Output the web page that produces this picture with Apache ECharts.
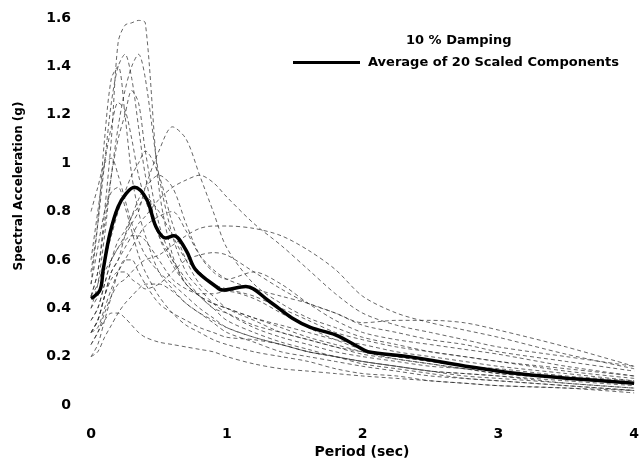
<!DOCTYPE html>
<html>
<head>
<meta charset="utf-8">
<script src="https://cdn.jsdelivr.net/npm/echarts@6/dist/echarts.min.js"></script>
<style>
  html, body { margin: 0; padding: 0; background: #fff; }
  #chart { width: 642px; height: 458px; }
</style>
</head>
<body>
<div id="chart"></div>
<script>
// Periods (sec) at which each scaled component spectrum is sampled
const periods = [0, 0.05, 0.1, 0.15, 0.2, 0.25, 0.3, 0.35, 0.4, 0.5, 0.6, 0.7, 0.8, 0.9, 1.0, 1.2, 1.4, 1.6, 1.8, 2.0, 2.25, 2.5, 2.75, 3.0, 3.5, 4.0];

// Spectral acceleration (g) of the 20 scaled components, 10% damping
const comp01 = [0.45,0.55,0.8,1.1,1.5,1.57,1.58,1.59,1.58,0.9,0.62,0.5,0.45,0.4,0.38,0.33,0.3,0.27,0.24,0.22,0.2,0.18,0.16,0.15,0.12,0.1];
const comp02 = [0.4,0.5,0.7,0.95,1.15,1.3,1.4,1.45,1.35,0.95,0.7,0.55,0.48,0.42,0.38,0.32,0.28,0.25,0.22,0.2,0.18,0.16,0.15,0.13,0.11,0.09];
const comp03 = [0.5,0.75,1.1,1.35,1.4,1.2,0.95,0.8,0.7,0.55,0.48,0.42,0.38,0.35,0.32,0.28,0.25,0.22,0.2,0.18,0.16,0.14,0.12,0.11,0.09,0.07];
const comp04 = [0.35,0.4,0.5,0.6,0.65,0.7,0.75,0.8,0.9,1.05,1.15,1.1,0.95,0.8,0.65,0.5,0.42,0.36,0.32,0.28,0.25,0.22,0.2,0.18,0.15,0.12];
const comp05 = [0.3,0.35,0.45,0.55,0.6,0.65,0.7,0.75,0.78,0.85,0.9,0.93,0.95,0.92,0.86,0.75,0.66,0.56,0.46,0.38,0.33,0.3,0.27,0.24,0.2,0.16];
const comp06 = [0.25,0.3,0.38,0.45,0.5,0.52,0.55,0.58,0.6,0.62,0.66,0.7,0.73,0.74,0.74,0.73,0.7,0.64,0.56,0.45,0.38,0.34,0.31,0.28,0.21,0.15];
const comp07 = [0.6,0.8,1.0,1.15,1.25,1.22,1.1,0.95,0.85,0.7,0.6,0.52,0.45,0.4,0.35,0.3,0.26,0.23,0.2,0.18,0.16,0.14,0.13,0.12,0.1,0.08];
const comp08 = [0.2,0.25,0.35,0.45,0.55,0.6,0.6,0.55,0.5,0.42,0.38,0.35,0.32,0.3,0.28,0.27,0.25,0.22,0.2,0.18,0.16,0.14,0.13,0.12,0.09,0.07];
const comp09 = [0.8,0.9,1.0,1.02,0.95,0.85,0.75,0.68,0.62,0.55,0.5,0.45,0.4,0.36,0.32,0.28,0.25,0.22,0.2,0.17,0.15,0.13,0.11,0.1,0.08,0.06];
const comp10 = [0.35,0.4,0.5,0.6,0.68,0.72,0.78,0.82,0.86,0.8,0.7,0.6,0.55,0.5,0.48,0.45,0.4,0.35,0.3,0.27,0.24,0.22,0.2,0.18,0.14,0.11];
const comp11 = [0.25,0.3,0.35,0.38,0.38,0.36,0.33,0.3,0.28,0.26,0.25,0.24,0.23,0.22,0.2,0.17,0.15,0.14,0.13,0.12,0.11,0.1,0.09,0.08,0.07,0.05];
const comp12 = [0.3,0.35,0.45,0.52,0.55,0.55,0.52,0.5,0.48,0.5,0.55,0.6,0.62,0.63,0.62,0.55,0.48,0.42,0.38,0.33,0.3,0.27,0.25,0.22,0.18,0.14];
const comp13 = [0.45,0.55,0.75,0.95,1.1,1.2,1.3,1.25,1.05,0.75,0.6,0.5,0.45,0.42,0.4,0.36,0.32,0.28,0.25,0.22,0.19,0.17,0.15,0.14,0.11,0.09];
const comp14 = [0.4,0.45,0.55,0.6,0.65,0.68,0.7,0.7,0.68,0.6,0.52,0.48,0.46,0.46,0.47,0.44,0.38,0.32,0.27,0.23,0.2,0.18,0.16,0.14,0.11,0.09];
const comp15 = [0.5,0.65,0.8,0.88,0.9,0.82,0.72,0.62,0.55,0.45,0.38,0.33,0.3,0.27,0.25,0.22,0.2,0.18,0.15,0.13,0.12,0.1,0.09,0.08,0.07,0.06];
const comp16 = [0.3,0.35,0.45,0.55,0.6,0.7,0.78,0.85,0.9,0.95,0.9,0.75,0.62,0.55,0.52,0.55,0.5,0.42,0.35,0.3,0.27,0.25,0.23,0.21,0.16,0.12];
const comp17 = [0.45,0.5,0.6,0.7,0.8,0.88,0.95,1.0,1.05,0.95,0.75,0.6,0.5,0.45,0.4,0.35,0.3,0.27,0.24,0.21,0.19,0.17,0.15,0.13,0.11,0.09];
const comp18 = [0.2,0.22,0.28,0.33,0.38,0.42,0.45,0.48,0.5,0.5,0.47,0.42,0.38,0.34,0.3,0.26,0.22,0.2,0.18,0.16,0.14,0.12,0.11,0.1,0.08,0.06];
const comp19 = [0.55,0.75,1.0,1.25,1.4,1.45,1.35,1.15,0.95,0.7,0.58,0.5,0.45,0.42,0.4,0.36,0.33,0.3,0.27,0.25,0.22,0.2,0.18,0.16,0.13,0.1];
const comp20 = [0.3,0.32,0.4,0.48,0.55,0.6,0.65,0.7,0.74,0.78,0.8,0.72,0.62,0.56,0.52,0.48,0.45,0.42,0.38,0.34,0.35,0.35,0.34,0.31,0.24,0.16];

// Average of the 20 scaled components
const avgPeriods = [0, 0.066, 0.09, 0.14, 0.2, 0.26, 0.32, 0.41, 0.48, 0.55, 0.61, 0.7, 0.77, 0.92, 0.97, 1.14, 1.31, 1.48, 1.62, 1.8, 1.97, 2.04, 2.34, 2.8, 3.14, 3.53, 4.0];
const avgValues  = [0.44, 0.475, 0.56, 0.71, 0.82, 0.875, 0.9, 0.85, 0.735, 0.69, 0.70, 0.64, 0.56, 0.49, 0.475, 0.49, 0.43, 0.36, 0.32, 0.29, 0.24, 0.22, 0.20, 0.157, 0.13, 0.11, 0.09];

const xTicks = [0, 1, 2, 3, 4];
const yTicks = [0, 0.2, 0.4, 0.6, 0.8, 1, 1.2, 1.4, 1.6];

const components = [comp01, comp02, comp03, comp04, comp05, comp06, comp07, comp08, comp09, comp10,
                    comp11, comp12, comp13, comp14, comp15, comp16, comp17, comp18, comp19, comp20];

const FONT = '"DejaVu Sans", "Liberation Sans", Arial, sans-serif';
const avgName = 'Average of 20 Scaled Components';

const series = components.map((vals, i) => ({
  name: 'Component ' + (i + 1),
  type: 'line',
  data: periods.map((p, k) => [p, vals[k]]),
  smooth: 0.3,
  symbol: 'none',
  silent: true,
  lineStyle: { color: '#2a2a2a', width: 0.9, type: [4, 3], opacity: 0.8 },
  z: 2
}));

series.push({
  name: avgName,
  type: 'line',
  data: avgPeriods.map((p, k) => [p, avgValues[k]]),
  smooth: 0.35,
  symbol: 'none',
  lineStyle: { color: '#000', width: 3.5 },
  itemStyle: { color: '#000' },
  z: 5
});

const chart = echarts.init(document.getElementById('chart'), null, { renderer: 'canvas' });
chart.setOption({
  animation: false,
  backgroundColor: '#fff',
  title: {
    text: '10 % Damping',
    left: 406,
    top: 34,
    textStyle: { fontFamily: FONT, fontWeight: 'bold', fontSize: 13, color: '#000' },
    padding: 0
  },
  legend: {
    data: [{ name: avgName, icon: 'rect' }],
    left: 293,
    top: 56,
    padding: 0,
    itemWidth: 67,
    itemHeight: 3,
    itemGap: 8,
    textStyle: { fontFamily: FONT, fontWeight: 'bold', fontSize: 13, color: '#000', padding: [0, 0, 0, 3] }
  },
  grid: { left: 91, right: 5, top: 18, bottom: 53 },
  xAxis: {
    type: 'value',
    min: xTicks[0],
    max: xTicks[xTicks.length - 1],
    interval: 1,
    axisLine: { show: false },
    axisTick: { show: false },
    splitLine: { show: false },
    axisLabel: { margin: 22, fontFamily: FONT, fontWeight: 'bold', fontSize: 14, color: '#000' }
  },
  yAxis: {
    type: 'value',
    min: yTicks[0],
    max: yTicks[yTicks.length - 1],
    interval: 0.2,
    axisLine: { show: false },
    axisTick: { show: false },
    splitLine: { show: false },
    axisLabel: {
      margin: 20, fontFamily: FONT, fontWeight: 'bold', fontSize: 14, color: '#000',
      formatter: v => String(Math.round(v * 10) / 10)
    }
  },
  graphic: [
    {
      type: 'text',
      x: 362, y: 452,
      style: {
        text: 'Period (sec)', fontFamily: FONT, fontWeight: 'bold', fontSize: 14,
        fill: '#000', textAlign: 'center', textVerticalAlign: 'middle'
      }
    },
    {
      type: 'text',
      x: 19, y: 186,
      rotation: Math.PI / 2,
      style: {
        text: 'Spectral Acceleration (g)', fontFamily: FONT, fontWeight: 'bold', fontSize: 12,
        fill: '#000', textAlign: 'center', textVerticalAlign: 'middle'
      }
    }
  ],
  series: series
});
</script>
</body>
</html>
